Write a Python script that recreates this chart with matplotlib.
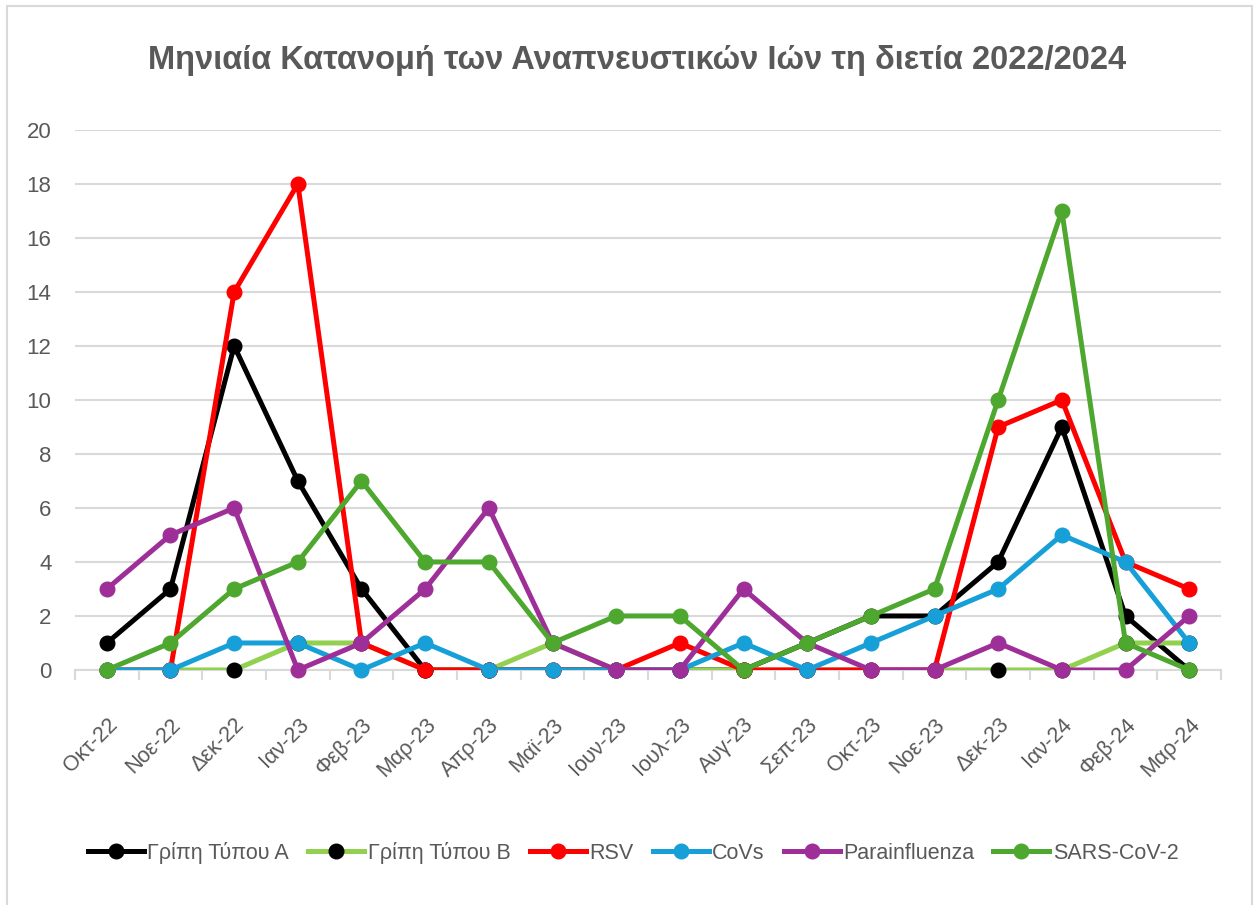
import matplotlib
matplotlib.use('Agg')
from matplotlib import pyplot as plt
from matplotlib import font_manager
from matplotlib.lines import Line2D
from matplotlib.patches import Rectangle
import numpy as np

# months on the x axis
months = ['Οκτ-22', 'Νοε-22', 'Δεκ-22', 'Ιαν-23', 'Φεβ-23', 'Μαρ-23', 'Απρ-23', 'Μαϊ-23', 'Ιουν-23',
          'Ιουλ-23', 'Αυγ-23', 'Σεπ-23', 'Οκτ-23', 'Νοε-23', 'Δεκ-23', 'Ιαν-24', 'Φεβ-24', 'Μαρ-24']

# monthly counts for each virus
flu_a = [1, 3, 12, 7, 3, 0, 0, 0, 0, 0, 0, 1, 2, 2, 4, 9, 2, 0]
flu_b = [0, 0, 0, 1, 1, 0, 0, 1, 0, 0, 0, 0, 0, 0, 0, 0, 1, 1]
rsv = [0, 0, 14, 18, 1, 0, 0, 0, 0, 1, 0, 0, 0, 0, 9, 10, 4, 3]
covs = [0, 0, 1, 1, 0, 1, 0, 0, 0, 0, 1, 0, 1, 2, 3, 5, 4, 1]
parainfluenza = [3, 5, 6, 0, 1, 3, 6, 1, 0, 0, 3, 1, 0, 0, 1, 0, 0, 2]
sars = [0, 1, 3, 4, 7, 4, 4, 1, 2, 2, 0, 1, 2, 3, 10, 17, 1, 0]

series_names = ['Γρίπη Τύπου Α', 'Γρίπη Τύπου Β', 'RSV', 'CoVs', 'Parainfluenza', 'SARS-CoV-2']
series_values = [flu_a, flu_b, rsv, covs, parainfluenza, sars]
line_colors = ['#000000', '#92D050', '#FF0000', '#17A0D8', '#9E2F98', '#4EA72E']
marker_colors = ['#000000', '#000000', '#FF0000', '#17A0D8', '#9E2F98', '#4EA72E']

text_color = '#595959'


# the reference text looks condensed, use a narrow face if there is one
def has_font(name):
    try:
        font_manager.findfont(name, fallback_to_default=False)
        return True
    except ValueError:
        return False


if has_font('Liberation Sans Narrow'):
    family = 'Liberation Sans Narrow'
    k = 1 / 0.82
else:
    family = 'Liberation Sans'
    k = 1.0
plt.rcParams['font.family'] = [family, 'DejaVu Sans']

fig = plt.figure(figsize=(12.54, 9.05), dpi=100)
ax = fig.add_axes([0.0598, 0.2597, 0.9139, 0.5967])

# light border round the chart area
fig.patches.append(Rectangle((7 / 1254, -0.01), 1245 / 1254, 1 - 6 / 905 + 0.01, transform=fig.transFigure,
                             fill=False, edgecolor='#D9D9D9', linewidth=1.5))

x = np.arange(len(months))
handles = []
for i, (name, vals) in enumerate(zip(series_names, series_values)):
    z = 3 + i * 0.1
    # line is clipped at the axis, markers are not (like Excel)
    ax.plot(x, vals, color=line_colors[i], linewidth=3.6, zorder=z, solid_capstyle='round')
    ax.plot(x, vals, linestyle='none', marker='o', markersize=10.5, color=marker_colors[i],
            markeredgecolor=marker_colors[i], clip_on=False, zorder=z + 0.05)
    handles.append(Line2D([0], [0], color=line_colors[i], linewidth=3.6, marker='o', markersize=10.5,
                          markerfacecolor=marker_colors[i], markeredgecolor=marker_colors[i]))

ax.set_xlim(-0.5, len(months) - 0.5)
ax.set_ylim(0, 20)
ax.set_yticks(np.arange(0, 21, 2))
ax.grid(axis='y', color='#D9D9D9', linewidth=1.5)
ax.set_axisbelow(True)

for s in ['top', 'right', 'left']:
    ax.spines[s].set_visible(False)
ax.spines['bottom'].set_color('#D9D9D9')
ax.spines['bottom'].set_linewidth(1.5)

ax.set_xticks(x)
ax.set_xticklabels(months, rotation=45, ha='right', rotation_mode='anchor')
ax.set_xticks(np.arange(-0.5, len(months), 1), minor=True)
ax.tick_params(axis='x', which='major', length=0, pad=32, labelsize=15.5 * k, labelcolor=text_color)
ax.tick_params(axis='x', which='minor', length=7, width=1.5, color='#D9D9D9')
ax.tick_params(axis='y', length=0, pad=17, labelsize=16 * k, labelcolor=text_color)

fig.text(0.508, 1 - 60 / 905, 'Μηνιαία Κατανομή των Αναπνευστικών Ιών τη διετία 2022/2024',
         ha='center', va='center', fontsize=23.5 * k, fontweight='bold', color=text_color)

fig.legend(handles, series_names, loc='center', bbox_to_anchor=(0.505, 0.058), ncol=6, frameon=False,
           fontsize=15.5 * k, labelcolor=text_color, handlelength=2.6, columnspacing=0.9, handletextpad=0.15)

plt.savefig('out.png', dpi=100)
